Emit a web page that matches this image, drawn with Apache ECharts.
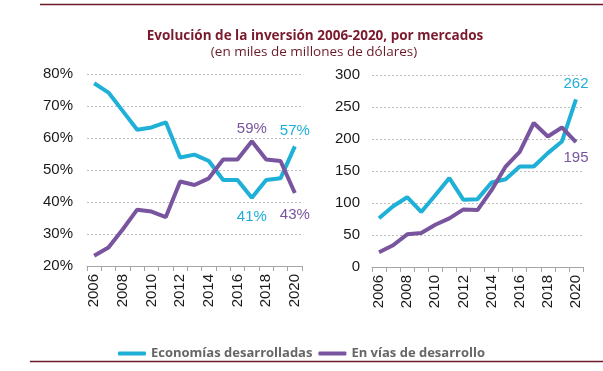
<!DOCTYPE html>
<html>
<head>
<meta charset="utf-8">
<script src="https://cdn.jsdelivr.net/npm/echarts@6/dist/echarts.min.js"></script>
<style>
html,body{margin:0;padding:0;background:#fff;}
#c{width:603px;height:371px;}
</style>
</head>
<body>
<div id="c"></div>
<script>
const years = ['2006','2007','2008','2009','2010','2011','2012','2013','2014','2015','2016','2017','2018','2019','2020'];
const shareDeveloped = [77.1, 74.2, 68.4, 62.6, 63.3, 64.9, 53.9, 54.8, 52.8, 46.9, 46.9, 41.3, 46.9, 47.4, 57.4];
const shareDeveloping = [23.2, 25.8, 31.5, 37.6, 37.0, 35.3, 46.4, 45.3, 47.4, 53.3, 53.3, 59.0, 53.3, 52.8, 42.8];
const invDeveloped = [76, 95, 109, 86, 112, 139, 105, 106, 132, 137, 157, 157, 178, 196, 262];
const invDeveloping = [23, 34, 51, 53, 66, 76, 90, 89, 120, 157, 180, 225, 204, 218, 195];
const shareTicks = ['20%','30%','40%','50%','60%','70%','80%'];
const seriesNames = ['Economías desarrolladas', 'En vías de desarrollo'];
const titleText = 'Evolución de la inversión 2006-2020, por mercados';
const subtitleText = '(en miles de millones de dólares)';

const CYAN = '#1eb0d6';
const PURPLE = '#7a559f';
const AXISFONT = {fontFamily: 'Liberation Sans', fontSize: 15, color: '#1a1a1a'};

function lbl(idx, pos, texts, color, dist) {
  return function(arr) {
    return arr.map((v, i) => {
      const k = idx.indexOf(i);
      if (k < 0) return v;
      return {value: v, label: {show: true, position: pos[k], distance: dist[k], color: color,
        fontFamily: 'Liberation Sans', fontSize: 15, formatter: texts[k]}};
    });
  };
}

const xAxisCommon = {
  type: 'category', data: years, boundaryGap: true,
  axisLine: {lineStyle: {color: '#a6a6a6', width: 1}},
  axisTick: {show: true, interval: 0, alignWithLabel: false, length: 5, lineStyle: {color: '#a6a6a6'}},
  axisLabel: Object.assign({rotate: 90, interval: 1, margin: 8}, AXISFONT),
  splitLine: {show: false}
};
const splitLine = {show: true, lineStyle: {color: '#bdbdbd', type: [2, 2], width: 1}};
const lineBase = {type: 'line', symbol: 'circle', symbolSize: 0, showSymbol: true};

const option = {
  animation: false,
  backgroundColor: '#fff',
  title: [
    {text: titleText, left: 310, top: 24, textAlign: 'center',
     textStyle: {fontFamily: 'Open Sans', fontWeight: 'bold', fontSize: 13.5, color: '#7a1a2c'}},
    {text: subtitleText, left: 309, top: 40, textAlign: 'center',
     textStyle: {fontFamily: 'Open Sans', fontWeight: 'normal', fontSize: 13.5, color: '#6b1a28'}}
  ],
  legend: {
    data: seriesNames, left: 'center', top: 342, itemWidth: 28, itemHeight: 4, itemGap: 6,
    icon: 'roundRect',
    textStyle: {fontFamily: 'Open Sans', fontWeight: 'bold', fontSize: 13, color: '#666'}
  },
  graphic: [
    {type: 'line', shape: {x1: 40, y1: 4.5, x2: 603, y2: 4.5}, style: {stroke: '#6b1a28', lineWidth: 1.5}},
    {type: 'line', shape: {x1: 30, y1: 361.5, x2: 603, y2: 361.5}, style: {stroke: '#6b1a28', lineWidth: 1.5}}
  ],
  grid: [
    {left: 87, right: 301, top: 74, bottom: 105},
    {left: 372, right: 20, top: 75, bottom: 104}
  ],
  xAxis: [
    Object.assign({gridIndex: 0}, xAxisCommon),
    Object.assign({gridIndex: 1}, xAxisCommon)
  ],
  yAxis: [
    {type: 'value', gridIndex: 0, min: 20, max: 80, interval: 10,
     axisLine: {show: false}, axisTick: {show: false},
     axisLabel: Object.assign({formatter: v => shareTicks[(v - 20) / 10], margin: 14}, AXISFONT),
     splitLine: splitLine},
    {type: 'value', gridIndex: 1, min: 0, max: 300, interval: 50,
     axisLine: {show: false}, axisTick: {show: false},
     axisLabel: Object.assign({margin: 12}, AXISFONT),
     splitLine: splitLine}
  ],
  series: [
    Object.assign({}, lineBase, {name: seriesNames[0], xAxisIndex: 0, yAxisIndex: 0,
     lineStyle: {color: CYAN, width: 4}, itemStyle: {color: CYAN},
     data: lbl([11, 14], ['bottom', 'top'], ['41%', '57%'], CYAN, [12, 8])(shareDeveloped)}),
    Object.assign({}, lineBase, {name: seriesNames[1], xAxisIndex: 0, yAxisIndex: 0,
     lineStyle: {color: PURPLE, width: 4}, itemStyle: {color: PURPLE},
     data: lbl([11, 14], ['top', 'bottom'], ['59%', '43%'], PURPLE, [5, 14])(shareDeveloping)}),
    Object.assign({}, lineBase, {name: seriesNames[0], xAxisIndex: 1, yAxisIndex: 1,
     lineStyle: {color: CYAN, width: 4}, itemStyle: {color: CYAN},
     data: lbl([14], ['top'], ['{c}'], CYAN, [8])(invDeveloped)}),
    Object.assign({}, lineBase, {name: seriesNames[1], xAxisIndex: 1, yAxisIndex: 1,
     lineStyle: {color: PURPLE, width: 4}, itemStyle: {color: PURPLE},
     data: lbl([14], ['bottom'], ['{c}'], PURPLE, [8])(invDeveloping)})
  ]
};
echarts.init(document.getElementById('c'), null, {renderer: 'canvas'}).setOption(option);
</script>
</body>
</html>
